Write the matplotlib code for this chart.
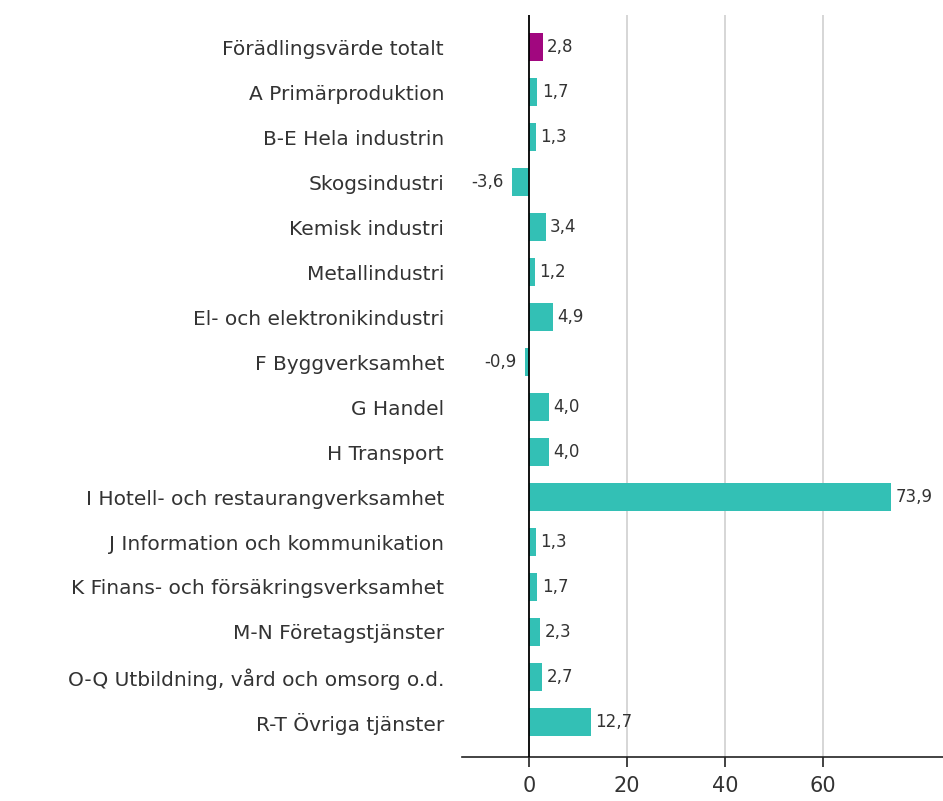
import matplotlib
matplotlib.use("Agg")
import matplotlib.pyplot as plt

categories = [
    "Förädlingsvärde totalt",
    "A Primärproduktion",
    "B-E Hela industrin",
    "Skogsindustri",
    "Kemisk industri",
    "Metallindustri",
    "El- och elektronikindustri",
    "F Byggverksamhet",
    "G Handel",
    "H Transport",
    "I Hotell- och restaurangverksamhet",
    "J Information och kommunikation",
    "K Finans- och försäkringsverksamhet",
    "M-N Företagstjänster",
    "O-Q Utbildning, vård och omsorg o.d.",
    "R-T Övriga tjänster",
]
values = [2.8, 1.7, 1.3, -3.6, 3.4, 1.2, 4.9, -0.9, 4.0, 4.0, 73.9, 1.3, 1.7, 2.3, 2.7, 12.7]
xticks = [0, 20, 40, 60]

teal = "#33C0B5"
magenta = "#A1077F"
colors = [magenta] + [teal] * (len(values) - 1)
txtcol = "#333333"

fig = plt.figure(figsize=(9.43, 8.01), dpi=100)
ax = fig.add_axes([0.49, 0.0549, 0.51, 0.926])

y = list(range(len(values)))
ax.barh(y, values, height=0.62, color=colors, zorder=3)

ax.set_ylim(len(values) - 1 + 0.78, -0.71)
ax.set_xlim(-13.7, 84.5)

ax.set_yticks(y)
ax.set_yticklabels(categories, fontsize=14.5, color=txtcol)
ax.tick_params(axis="y", length=0, pad=13)

ax.set_xticks(xticks)
ax.set_xticklabels([str(t) for t in xticks], fontsize=15, color=txtcol)
ax.tick_params(axis="x", length=7, width=1.2, color="#222222", pad=7)

for t in xticks[1:]:
    ax.axvline(t, color="#d0d0d0", lw=1.2, zorder=1)
ax.axvline(0, color="black", lw=1.3, zorder=4)

for s in ["top", "right", "left"]:
    ax.spines[s].set_visible(False)
ax.spines["bottom"].set_color("#222222")
ax.spines["bottom"].set_linewidth(1.2)

for yi, v in zip(y, values):
    txt = f"{v:.1f}".replace(".", ",")
    if v >= 0:
        ax.annotate(txt, (v, yi), xytext=(3, 0), textcoords="offset points",
                    ha="left", va="center", fontsize=12, color=txtcol)
    else:
        ax.annotate(txt, (v, yi), xytext=(-6, 0), textcoords="offset points",
                    ha="right", va="center", fontsize=12, color=txtcol)

fig.savefig("out.png", dpi=100)
